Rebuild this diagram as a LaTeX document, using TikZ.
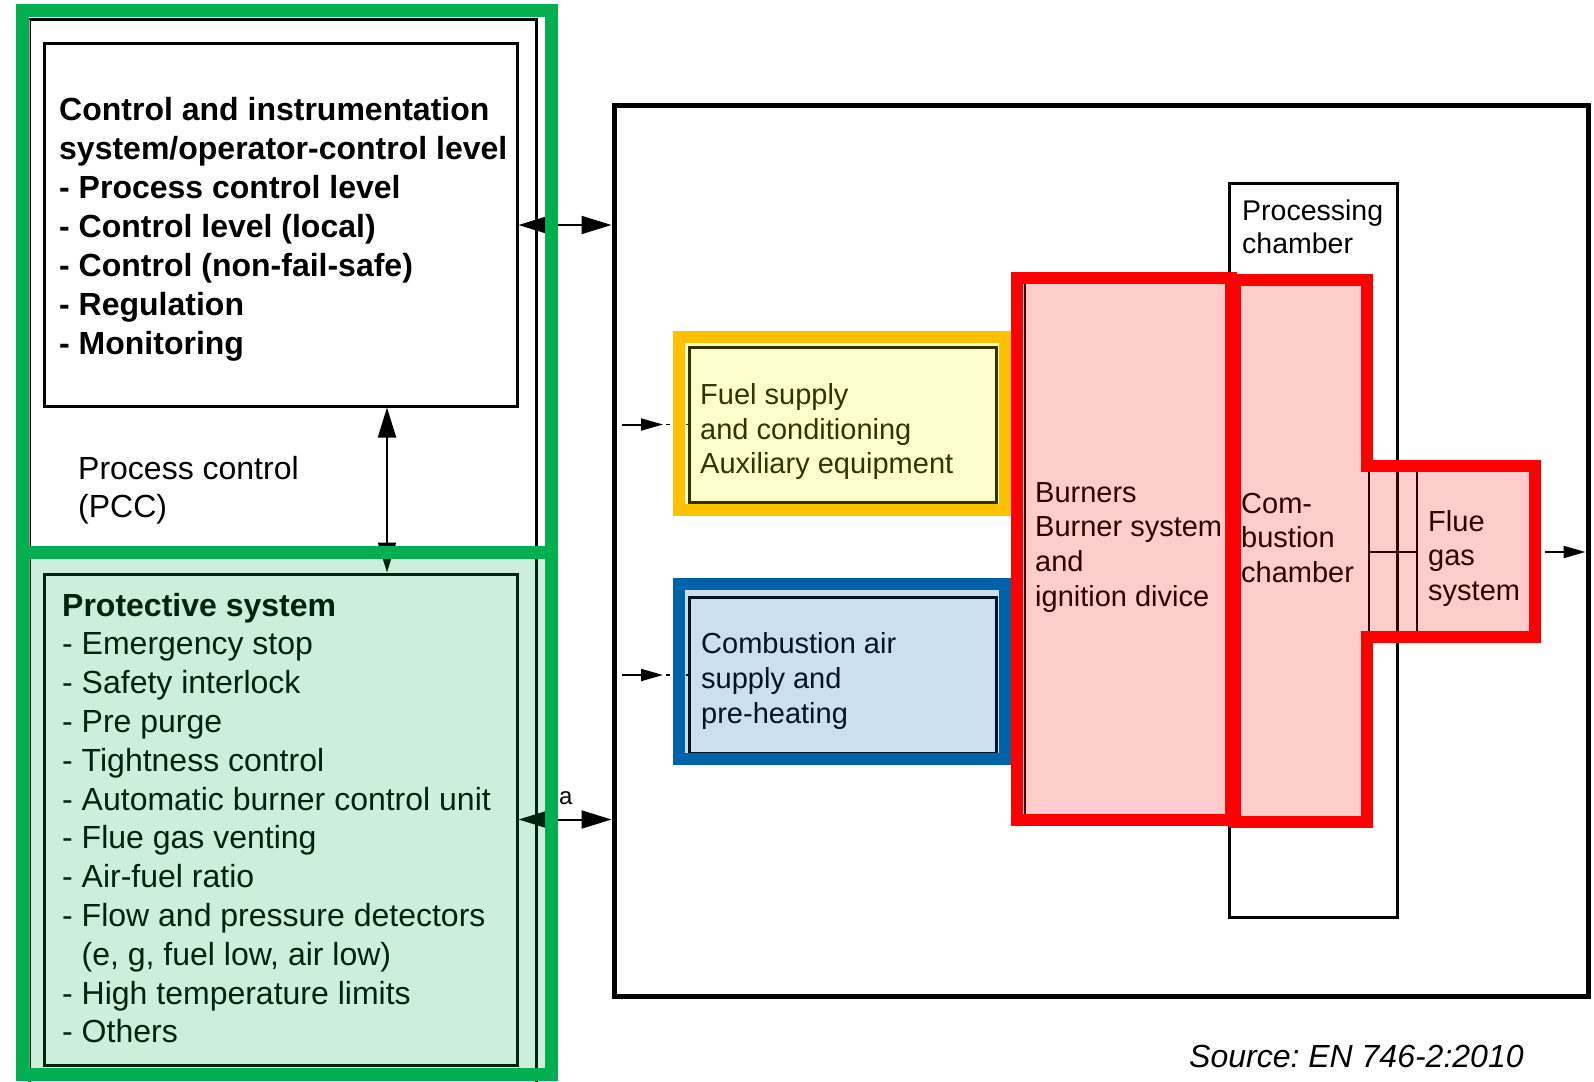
\documentclass[tikz,border=0pt]{standalone}
\usepackage{fontspec}
\setmainfont{Liberation Sans}
\usetikzlibrary{arrows.meta,calc}
\definecolor{grn}{HTML}{00B050}
\definecolor{org}{HTML}{FFC000}
\definecolor{blu}{RGB}{0,99,170}
\definecolor{rd}{HTML}{FF0000}
\definecolor{ylw}{HTML}{FFFF00}
\begin{document}
\frenchspacing
\begin{tikzpicture}[x=1pt,y=-1pt,
  box/.style={draw=black,line width=3pt,rectangle,inner sep=0pt},
  txt/.style={anchor=north west,inner sep=0pt,align=left},
  bigtip/.style={line width=2pt,{Triangle[length=30pt,width=18pt]}-{Triangle[length=30pt,width=18pt]}},
  smalltip/.style={line width=2pt,-{Triangle[length=22pt,width=12pt]}},
  hlfill/.style={fill opacity=0.2},
  hlline/.style={line width=12pt},
]
\useasboundingbox (0,0) rectangle (1594,1081);
\fill[white] (0,0) rectangle (1594,1081);
\clip (0,0) rectangle (1594,1081);

% ---------- base diagram ----------
% left column frame
\draw[line width=3pt] (29,1090) |- (536,20) -- (536,1090);
\draw[line width=1pt,black!40] (29,20) -- (29,1090);

\node[box,minimum width=473pt,minimum height=362pt] (ctrl) at (280.5,225) {};
\node[box,minimum width=473pt,minimum height=491pt] (prot) at (280.5,819.5) {};
\node[draw=black,line width=5pt,inner sep=0pt,minimum width=974pt,minimum height=891pt] (outer) at (1101,550.5) {};
\node[box,minimum width=307pt,minimum height=155pt] (fuel) at (842.5,424.5) {};
\node[box,minimum width=307pt,minimum height=156pt] (air) at (842.5,675) {};
\node[box,minimum width=168pt,minimum height=734pt] (proc) at (1313,550) {};

% burner inner outline and flue duct lines
\draw[line width=2pt] (1024.5,284) -- (1024.5,814);
\draw[line width=2pt] (1369,471) -- (1369,631);
\draw[line width=2pt] (1417,471) -- (1417,631);
\draw[line width=2pt] (1369,552) -- (1417,552);

% connectors
\draw[bigtip] (ctrl.east) -- (ctrl.east -| outer.west);
\draw[bigtip] (prot.east) -- (prot.east -| outer.west);
\coordinate (vx) at (387,0);
\draw[bigtip] (ctrl.south -| vx) -- (prot.north -| vx);
\draw[smalltip] ([xshift=-65.5pt]fuel.west) -- ([xshift=-24.5pt]fuel.west);
\draw[line width=1.5pt,dash pattern=on 4pt off 6pt] ([xshift=-22pt]fuel.west) -- (fuel.west);
\draw[smalltip] ([xshift=-65.5pt]air.west) -- ([xshift=-24.5pt]air.west);
\draw[line width=1.5pt,dash pattern=on 4pt off 6pt] ([xshift=-22pt]air.west) -- (air.west);
\coordinate (fout) at (1545,552);
\draw[smalltip] (fout) -- ($(fout -| outer.east)+(-5,0)$);

\node[anchor=base west,inner sep=0pt,font=\fontsize{24}{28}\selectfont] (alab) at (559,804) {a};

% texts
\node[txt,font=\bfseries\fontsize{32}{39}\selectfont] (ctrltxt) at (59,92.7)
 {\strut Control and instrumentation\\system/operator-control level\\- Process control level\\- Control level (local)\\- Control (non-fail-safe)\\- Regulation\\- Monitoring};
\node[txt,font=\fontsize{32}{38}\selectfont] (pcc) at (78,452.4) {\strut Process control\\(PCC)};
\node[txt,font=\fontsize{32}{38.8}\selectfont] (prottxt) at (62,588.8)
 {\strut\textbf{Protective system}\\- Emergency stop\\- Safety interlock\\- Pre purge\\- Tightness control\\- Automatic burner control unit\\- Flue gas venting\\- Air-fuel ratio\\- Flow and pressure detectors\\\hspace*{19.5pt}(e, g, fuel low, air low)\\- High temperature limits\\- Others};
\node[txt,font=\fontsize{29}{34.5}\selectfont] (fueltxt) at (700,380.3) {\strut Fuel supply\\and conditioning\\Auxiliary equipment};
\node[txt,font=\fontsize{29}{35}\selectfont] (airtxt) at (701,628.5) {\strut Combustion air\\supply and\\pre-heating};
\node[txt,font=\fontsize{29}{34.7}\selectfont] (burntxt) at (1035,477.7) {\strut Burners\\Burner system\\and\\ignition divice};
\node[txt,font=\fontsize{29}{34.7}\selectfont] (combtxt) at (1241,488.7) {\strut Com-\\bustion\\chamber};
\node[txt,font=\fontsize{29}{34.8}\selectfont] (fluetxt) at (1428,506.6) {\strut Flue\\gas\\system};
\node[txt,font=\fontsize{28.5}{33}\selectfont] (proctxt) at (1242,196.9) {\strut Processing\\chamber};
\node[anchor=base west,inner sep=0pt,font=\itshape\fontsize{32}{38}\selectfont] (src) at (1189,1067) {Source: EN 746-2:2010};

% ---------- highlight overlays ----------
\fill[grn,hlfill] (22,552) rectangle (551,1074);
\fill[ylw,hlfill] (679,337) rectangle (1005,510);
\fill[blu,hlfill] (679,584) rectangle (1005,759);
\fill[rd,hlfill] (1017,278) rectangle (1231,820);
\fill[rd,hlfill] (1235,280) -- (1367,280) -- (1367,466) -- (1535,466) -- (1535,637) -- (1367,637) -- (1367,822) -- (1235,822) -- cycle;

\draw[grn,line width=13pt] (22,11) rectangle (551,1074);
\draw[grn,line width=13pt] (22,552) -- (551,552);
\draw[org,hlline] (679,337) rectangle (1005,510);
\draw[blu,hlline] (679,584) rectangle (1005,759);
\draw[rd,hlline] (1017,278) rectangle (1231,820);
\draw[rd,hlline] (1235,280) -- (1367,280) -- (1367,466) -- (1535,466) -- (1535,637) -- (1367,637) -- (1367,822) -- (1235,822) -- cycle;
\end{tikzpicture}
\end{document}
